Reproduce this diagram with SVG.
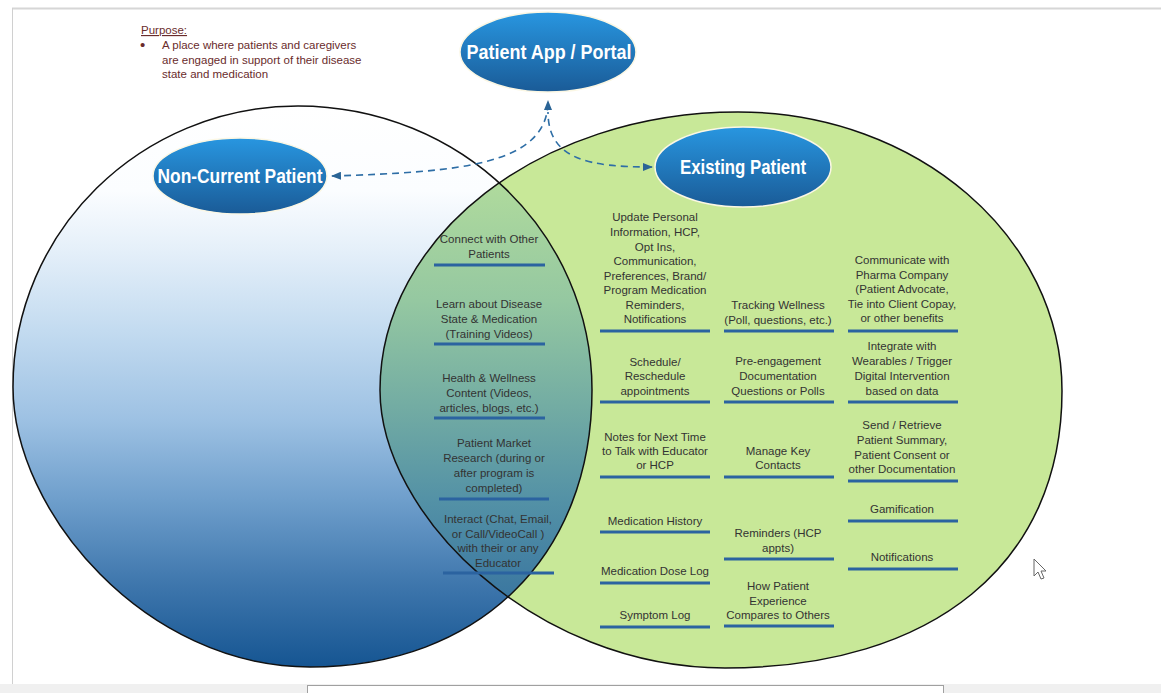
<svg xmlns="http://www.w3.org/2000/svg" width="1161" height="693" viewBox="0 0 1161 693">
<style>
.t{font-family:"Liberation Sans",Arial,sans-serif;font-size:11.5px;fill:#333;text-anchor:middle}
.p{font-family:"Liberation Sans",Arial,sans-serif;font-size:11.5px;fill:#6a2c2c}
.h{font-family:"Liberation Sans",Arial,sans-serif;font-size:20px;font-weight:bold;fill:#fff;text-anchor:middle}
.u{stroke:#2b63a0;stroke-width:3.2}
.ov{fill:url(#ovg);stroke:#fbf7e4;stroke-width:1.5}
.cn{fill:none;stroke:#2e6ea6;stroke-width:1.6;stroke-dasharray:7 5}
.edge{fill:none;stroke:#111;stroke-width:1.5}
</style>
<defs>
<linearGradient id="lg" gradientUnits="userSpaceOnUse" x1="0" y1="106" x2="0" y2="667">
<stop offset="0" stop-color="#ffffff"/>
<stop offset="0.15" stop-color="#fbfdff"/>
<stop offset="0.26" stop-color="#e4eff9"/>
<stop offset="0.4" stop-color="#c3dbf0"/>
<stop offset="0.56" stop-color="#9dc1e3"/>
<stop offset="0.7" stop-color="#6f9fcc"/>
<stop offset="0.85" stop-color="#3f77ad"/>
<stop offset="1" stop-color="#155592"/>
</linearGradient>
<linearGradient id="ig" gradientUnits="userSpaceOnUse" x1="0" y1="172" x2="0" y2="600">
<stop offset="0" stop-color="#b2dc9c"/>
<stop offset="0.3" stop-color="#95c8a1"/>
<stop offset="0.54" stop-color="#74ada3"/>
<stop offset="0.77" stop-color="#5391a6"/>
<stop offset="1" stop-color="#3a76a0"/>
</linearGradient>
<linearGradient id="ovg" x1="0" y1="0" x2="0" y2="1">
<stop offset="0" stop-color="#2896e0"/>
<stop offset="1" stop-color="#1a5b97"/>
</linearGradient>
<path id="rshape" d="M738,112 C917,112 1062,237 1062,391 C1062,563 934,668 725,668 C534.5,668 380,514.5 380,390 C380,236.5 540.3,112 738,112 Z"/>
<path id="lshape" d="M298,106 C460.4,106 592,233.1 592,390 C592,556.2 479.2,667 310,667 C146,667 13,512.4 13,387 C13,231.8 140.6,106 298,106 Z"/>
<clipPath id="rc"><use href="#rshape"/></clipPath>
<marker id="ah" viewBox="0 0 10 8" refX="9" refY="4" markerWidth="10" markerHeight="8" markerUnits="userSpaceOnUse" orient="auto-start-reverse">
<path d="M0,0 L10,4 L0,8 z" fill="#2a6496"/>
</marker>
</defs>
<g id="page">
<rect x="0" y="0" width="1161" height="693" fill="#fff"/>
<line x1="12" y1="8.5" x2="1161" y2="8.5" stroke="#d6d6d6" stroke-width="2"/>
<line x1="12.5" y1="8" x2="12.5" y2="684" stroke="#d0d0d0" stroke-width="1"/>
<rect x="0" y="684" width="1161" height="9" fill="#f0f0f0"/>
<rect x="307.5" y="685.5" width="636" height="9" fill="#fff" stroke="#a0a0a0" stroke-width="1"/>
</g>
<g id="venn">
<use id="left-set" href="#lshape" fill="url(#lg)"/>
<use id="right-set" href="#rshape" fill="#c8e898"/>
<use id="overlap" href="#lshape" fill="url(#ig)" clip-path="url(#rc)"/>
<use class="edge" href="#lshape"/>
<use class="edge" href="#rshape"/>
</g>
<g id="purpose">
<text class="p" x="141" y="34" text-decoration="underline">Purpose:</text>
<text class="p" x="140" y="50" style="font-size:15px">•</text>
<text class="p" x="162" y="49">A place where patients and caregivers</text>
<text class="p" x="162" y="64">are engaged in support of their disease</text>
<text class="p" x="162" y="78">state and medication</text>
</g>
<g id="connectors">
<path class="cn" d="M332,176 C460,172 548,165 548,101" marker-start="url(#ah)" marker-end="url(#ah)"/>
<path class="cn" d="M652,167 C590,167 548,160 548,112" marker-start="url(#ah)"/>
</g>
<g id="patient-app">
<ellipse class="ov" cx="548" cy="52" rx="88" ry="40"/>
<text class="h" x="549" y="59" textLength="165" lengthAdjust="spacingAndGlyphs">Patient App / Portal</text>
</g>
<g id="non-current-patient">
<ellipse class="ov" cx="240" cy="176" rx="87" ry="38"/>
<text class="h" x="240" y="183" textLength="165" lengthAdjust="spacingAndGlyphs">Non-Current Patient</text>
</g>
<g id="existing-patient">
<ellipse class="ov" cx="743" cy="167" rx="88" ry="40"/>
<text class="h" x="743" y="174" textLength="126" lengthAdjust="spacingAndGlyphs">Existing Patient</text>
</g>
<g id="connect-patients">
<text class="t" x="489" y="243">Connect with Other</text>
<text class="t" x="489" y="258">Patients</text>
<line class="u" x1="434" y1="265" x2="545" y2="265"/>
</g>
<g id="learn-disease">
<text class="t" x="489" y="308">Learn about Disease</text>
<text class="t" x="489" y="323">State &amp; Medication</text>
<text class="t" x="489" y="338">(Training Videos)</text>
<line class="u" x1="434" y1="344" x2="545" y2="344"/>
</g>
<g id="health-wellness">
<text class="t" x="489" y="382">Health &amp; Wellness</text>
<text class="t" x="489" y="397">Content (Videos,</text>
<text class="t" x="489" y="412">articles, blogs, etc.)</text>
<line class="u" x1="434" y1="418" x2="545" y2="418"/>
</g>
<g id="market-research">
<text class="t" x="494" y="447">Patient Market</text>
<text class="t" x="494" y="462">Research (during or</text>
<text class="t" x="494" y="477">after program is</text>
<text class="t" x="494" y="492">completed)</text>
<line class="u" x1="439" y1="499" x2="549" y2="499"/>
</g>
<g id="interact">
<text class="t" x="498" y="523">Interact (Chat, Email,</text>
<text class="t" x="498" y="538">or Call/VideoCall )</text>
<text class="t" x="498" y="552">with their or any</text>
<text class="t" x="498" y="567">Educator</text>
<line class="u" x1="443" y1="573" x2="554" y2="573"/>
</g>
<g id="update-info">
<text class="t" x="655" y="221">Update Personal</text>
<text class="t" x="655" y="236">Information, HCP,</text>
<text class="t" x="655" y="251">Opt Ins,</text>
<text class="t" x="655" y="265">Communication,</text>
<text class="t" x="655" y="280">Preferences, Brand/</text>
<text class="t" x="655" y="294">Program Medication</text>
<text class="t" x="655" y="309">Reminders,</text>
<text class="t" x="655" y="323">Notifications</text>
<line class="u" x1="600" y1="331" x2="710" y2="331"/>
</g>
<g id="schedule">
<text class="t" x="655" y="366">Schedule/</text>
<text class="t" x="655" y="380">Reschedule</text>
<text class="t" x="655" y="395">appointments</text>
<line class="u" x1="600" y1="402" x2="710" y2="402"/>
</g>
<g id="notes">
<text class="t" x="655" y="441">Notes for Next Time</text>
<text class="t" x="655" y="455">to Talk with Educator</text>
<text class="t" x="655" y="469">or HCP</text>
<line class="u" x1="600" y1="477" x2="710" y2="477"/>
</g>
<g id="med-history">
<text class="t" x="655" y="525">Medication History</text>
<line class="u" x1="600" y1="532" x2="710" y2="532"/>
</g>
<g id="dose-log">
<text class="t" x="655" y="575">Medication Dose Log</text>
<line class="u" x1="600" y1="583" x2="710" y2="583"/>
</g>
<g id="symptom-log">
<text class="t" x="655" y="619">Symptom Log</text>
<line class="u" x1="600" y1="627" x2="710" y2="627"/>
</g>
<g id="tracking">
<text class="t" x="778" y="309">Tracking Wellness</text>
<text class="t" x="778" y="324">(Poll, questions, etc.)</text>
<line class="u" x1="724" y1="331" x2="834" y2="331"/>
</g>
<g id="pre-engagement">
<text class="t" x="778" y="365">Pre-engagement</text>
<text class="t" x="778" y="380">Documentation</text>
<text class="t" x="778" y="395">Questions or Polls</text>
<line class="u" x1="724" y1="402" x2="834" y2="402"/>
</g>
<g id="key-contacts">
<text class="t" x="778" y="455">Manage Key</text>
<text class="t" x="778" y="469">Contacts</text>
<line class="u" x1="724" y1="477" x2="834" y2="477"/>
</g>
<g id="reminders">
<text class="t" x="778" y="537">Reminders (HCP</text>
<text class="t" x="778" y="552">appts)</text>
<line class="u" x1="724" y1="559" x2="834" y2="559"/>
</g>
<g id="compare">
<text class="t" x="778" y="590">How Patient</text>
<text class="t" x="778" y="605">Experience</text>
<text class="t" x="778" y="619">Compares to Others</text>
<line class="u" x1="724" y1="626" x2="834" y2="626"/>
</g>
<g id="pharma">
<text class="t" x="902" y="264">Communicate with</text>
<text class="t" x="902" y="279">Pharma Company</text>
<text class="t" x="902" y="293">(Patient Advocate,</text>
<text class="t" x="902" y="308">Tie into Client Copay,</text>
<text class="t" x="902" y="322">or other benefits</text>
<line class="u" x1="848" y1="331" x2="958" y2="331"/>
</g>
<g id="wearables">
<text class="t" x="902" y="350">Integrate with</text>
<text class="t" x="902" y="365">Wearables / Trigger</text>
<text class="t" x="902" y="380">Digital Intervention</text>
<text class="t" x="902" y="395">based on data</text>
<line class="u" x1="848" y1="402" x2="958" y2="402"/>
</g>
<g id="summary">
<text class="t" x="902" y="429">Send / Retrieve</text>
<text class="t" x="902" y="444">Patient Summary,</text>
<text class="t" x="902" y="459">Patient Consent or</text>
<text class="t" x="902" y="473">other Documentation</text>
<line class="u" x1="848" y1="481" x2="958" y2="481"/>
</g>
<g id="gamification">
<text class="t" x="902" y="513">Gamification</text>
<line class="u" x1="848" y1="521" x2="958" y2="521"/>
</g>
<g id="notifications">
<text class="t" x="902" y="561">Notifications</text>
<line class="u" x1="848" y1="569" x2="958" y2="569"/>
</g>
<g id="cursor">
<path d="M1034,559 L1034,576 L1038,572 L1041,579 L1044,578 L1041,571 L1046,571 Z" fill="#fff" stroke="#666" stroke-width="1"/>
</g>
</svg>
